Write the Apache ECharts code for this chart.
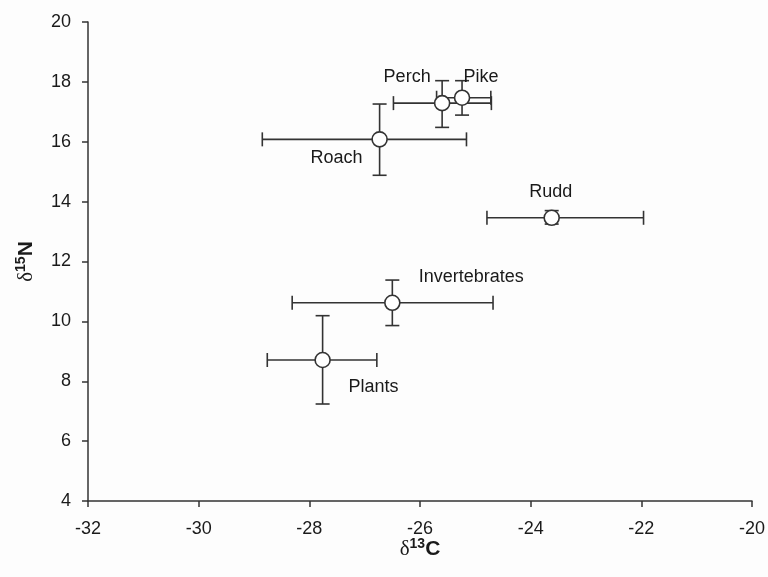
<!DOCTYPE html>
<html>
<head>
<meta charset="utf-8">
<script src="https://cdn.jsdelivr.net/npm/echarts@6/dist/echarts.min.js"></script>
<style>html,body{margin:0;padding:0;background:#fdfdfd;}#c{width:768px;height:577px;}</style>
</head>
<body>
<div id="c"></div>
<script>
// Data
var groups = ['Perch', 'Pike', 'Roach', 'Rudd', 'Invertebrates', 'Plants'];
var d13C = [-25.60, -25.24, -26.73, -23.62, -26.50, -27.76];
var d15N = [17.29, 17.47, 16.08, 13.46, 10.62, 8.71];
var d13C_low = [-26.48, -25.70, -28.85, -24.79, -28.31, -28.76];
var d13C_high = [-24.71, -24.72, -25.16, -21.96, -24.68, -26.78];
var d15N_low = [16.48, 16.89, 14.88, 13.25, 9.86, 7.24];
var d15N_high = [18.04, 18.04, 17.26, 13.70, 11.38, 10.19];
var xTicks = [-32, -30, -28, -26, -24, -22, -20];
var yTicks = [4, 6, 8, 10, 12, 14, 16, 18, 20];

// Label placement (style, pixel offsets)
var labelOffsets = [[-35, -26], [19, -21], [-43, 19], [-1, -26], [79, -26], [51, 27]];

var errData = groups.map(function (g, i) {
  return [d13C[i], d15N[i], d13C_low[i], d13C_high[i], d15N_low[i], d15N_high[i]];
});
var ptData = groups.map(function (g, i) {
  return {
    value: [d13C[i], d15N[i]],
    name: g,
    label: { offset: labelOffsets[i] }
  };
});

var axisColor = '#333';
var textColor = '#1a1a1a';
var titleRich = {
  d: { fontSize: 21, fontFamily: 'Liberation Serif', color: textColor },
  s: { fontSize: 14, fontWeight: 'bold', fontFamily: 'Liberation Sans', color: textColor, padding: [0, 0, 10, 0] },
  b: { fontSize: 21, fontWeight: 'bold', fontFamily: 'Liberation Sans', color: textColor }
};
var chart = echarts.init(document.getElementById('c'));
chart.setOption({
  animation: false,
  backgroundColor: '#fdfdfd',
  grid: { left: 88, right: 13, top: 22, bottom: 76, containLabel: false },
  xAxis: {
    type: 'value', min: xTicks[0], max: xTicks[xTicks.length - 1], interval: 2,
    splitLine: { show: false },
    axisLine: { onZero: false, lineStyle: { color: axisColor, width: 1.5 } },
    axisTick: { show: true, length: 6, lineStyle: { color: axisColor, width: 1.5 } },
    axisLabel: { color: textColor, fontSize: 18, fontFamily: 'Liberation Sans', margin: 19 },
    name: '{d|\u03b4}{s|13}{b|C}', nameLocation: 'middle', nameGap: 36, nameMoveOverlap: false,
    nameTextStyle: { rich: titleRich }
  },
  yAxis: {
    type: 'value', min: yTicks[0], max: yTicks[yTicks.length - 1], interval: 2,
    splitLine: { show: false },
    axisLine: { onZero: false, lineStyle: { color: axisColor, width: 1.5 } },
    axisTick: { show: true, length: 6, lineStyle: { color: axisColor, width: 1.5 } },
    axisLabel: { color: textColor, fontSize: 18, fontFamily: 'Liberation Sans', margin: 17 },
    name: '{d|\u03b4}{s|15}{b|N}', nameLocation: 'middle', nameGap: 50, nameRotate: 90, nameMoveOverlap: false,
    nameTextStyle: { rich: titleRich }
  },
  series: [
    {
      type: 'custom',
      data: errData,
      z: 2,
      renderItem: function (params, api) {
        var x = api.value(0), y = api.value(1);
        var xl = api.coord([api.value(2), y]);
        var xh = api.coord([api.value(3), y]);
        var yl = api.coord([x, api.value(4)]);
        var yh = api.coord([x, api.value(5)]);
        var cap = 7;
        var st = { stroke: axisColor, lineWidth: 1.6 };
        return {
          type: 'group',
          children: [
            { type: 'line', shape: { x1: xl[0], y1: xl[1], x2: xh[0], y2: xh[1] }, style: st },
            { type: 'line', shape: { x1: xl[0], y1: xl[1] - cap, x2: xl[0], y2: xl[1] + cap }, style: st },
            { type: 'line', shape: { x1: xh[0], y1: xh[1] - cap, x2: xh[0], y2: xh[1] + cap }, style: st },
            { type: 'line', shape: { x1: yl[0], y1: yl[1], x2: yh[0], y2: yh[1] }, style: st },
            { type: 'line', shape: { x1: yl[0] - cap, y1: yl[1], x2: yl[0] + cap, y2: yl[1] }, style: st },
            { type: 'line', shape: { x1: yh[0] - cap, y1: yh[1], x2: yh[0] + cap, y2: yh[1] }, style: st }
          ]
        };
      }
    },
    {
      type: 'scatter',
      data: ptData,
      z: 3,
      symbol: 'circle',
      symbolSize: 15,
      itemStyle: { color: '#fff', borderColor: axisColor, borderWidth: 1.6, opacity: 1 },
      label: {
        show: true, position: 'inside',
        formatter: '{b}', color: textColor, fontSize: 18, fontFamily: 'Liberation Sans'
      },
      emphasis: { disabled: true }
    }
  ]
});
</script>
</body>
</html>
